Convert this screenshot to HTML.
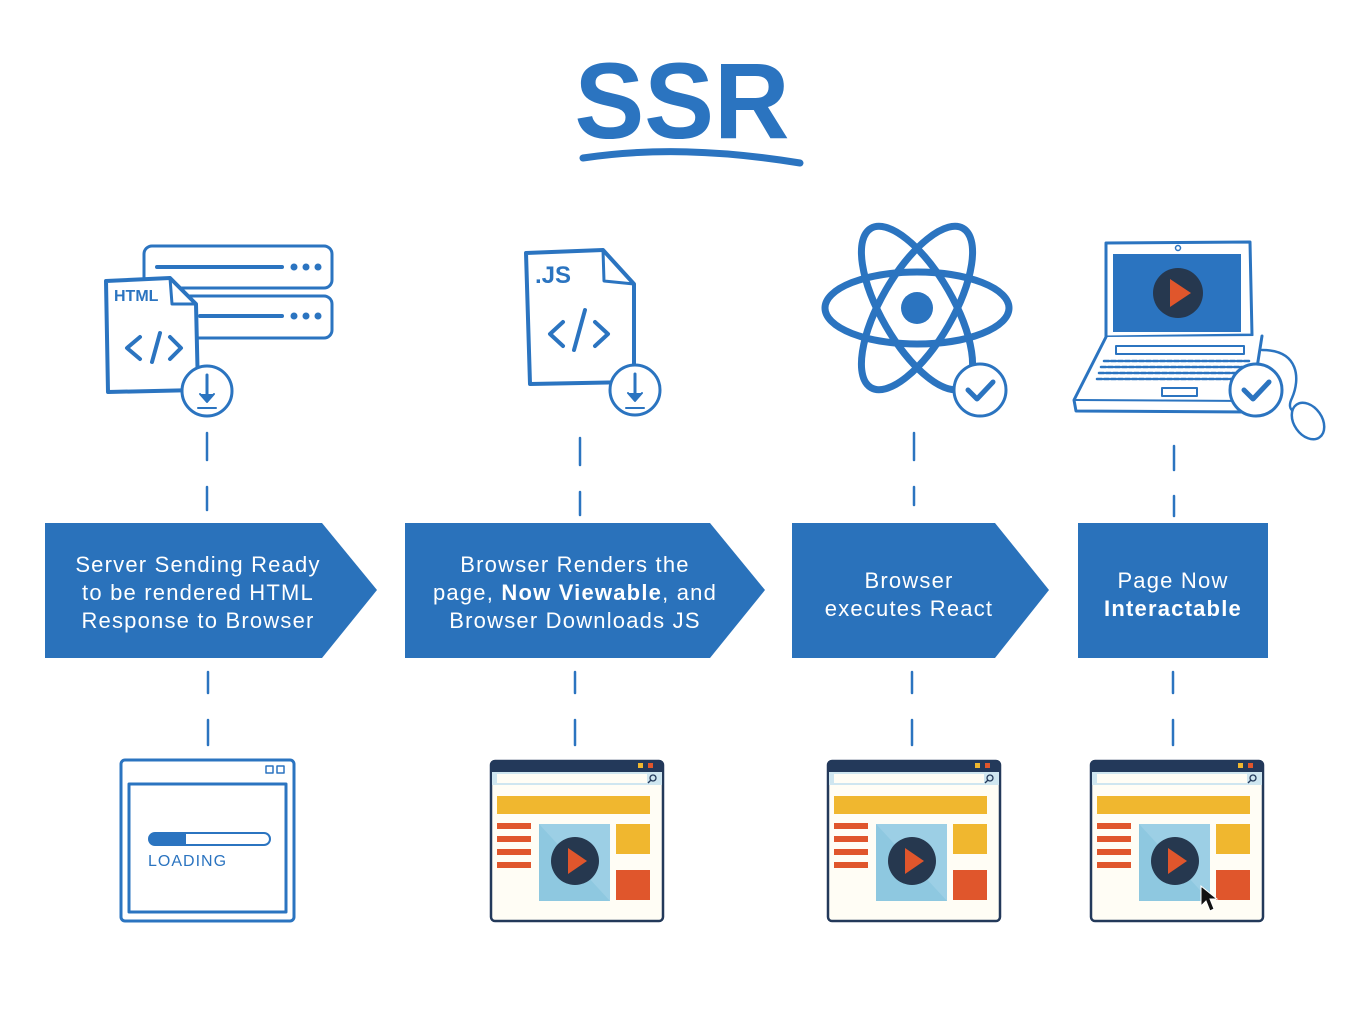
<!DOCTYPE html>
<html><head><meta charset="utf-8"><style>
html,body{margin:0;padding:0;background:#fff;}
svg{display:block;}
</style></head><body>
<svg width="1372" height="1010" viewBox="0 0 1372 1010" xmlns="http://www.w3.org/2000/svg" font-family="Liberation Sans, sans-serif">
<defs>
<g id="br">
  <rect x="1" y="1" width="172" height="160" rx="4" fill="#fffdf5" stroke="#23395a" stroke-width="2.5"/>
  <path d="M1 12 V5 a4 4 0 0 1 4 -4 H169 a4 4 0 0 1 4 4 V12 Z" fill="#23395a"/>
  <rect x="148" y="3" width="5" height="5" fill="#f0b72f"/>
  <rect x="158" y="3" width="5" height="5" fill="#e0562c"/>
  <rect x="2" y="12" width="170" height="13" fill="#cfe6f0"/>
  <rect x="7" y="14" width="150" height="9" fill="#fffdf5"/>
  <circle cx="163" cy="18" r="3" fill="none" stroke="#23395a" stroke-width="1.3"/>
  <line x1="161" y1="20" x2="158" y2="23" stroke="#23395a" stroke-width="1.3"/>
  <rect x="7" y="36" width="153" height="18" fill="#f0b72f"/>
  <rect x="7" y="63" width="34" height="6" fill="#e0562c"/>
  <rect x="7" y="76" width="34" height="6" fill="#e0562c"/>
  <rect x="7" y="89" width="34" height="6" fill="#e0562c"/>
  <rect x="7" y="102" width="34" height="6" fill="#e0562c"/>
  <rect x="49" y="64" width="71" height="77" fill="#8ec8e0"/>
  <path d="M49 64 L120 141 L120 64 Z" fill="#a5d4e8" opacity="0.6"/>
  <circle cx="85" cy="101" r="24" fill="#26384f"/>
  <path d="M78 88 L97 101 L78 114 Z" fill="#e0562c"/>
  <rect x="126" y="64" width="34" height="30" fill="#f0b72f"/>
  <rect x="126" y="110" width="34" height="30" fill="#e0562c"/>
</g>
</defs>

<!-- Title -->
<text x="682" y="138" text-anchor="middle" font-size="108" font-weight="bold" fill="#2b74c0" textLength="215" lengthAdjust="spacingAndGlyphs">SSR</text>
<path d="M583 158 C650 148 720 150 800 163" stroke="#2b74c0" stroke-width="7" fill="none" stroke-linecap="round"/>

<g stroke="#2b74c0" fill="none" stroke-linecap="round" stroke-linejoin="round">
<!-- Icon 1: servers + html -->
<rect x="144" y="246" width="188" height="42" rx="8" stroke-width="3"/>
<rect x="144" y="296" width="188" height="42" rx="8" stroke-width="3"/>
<line x1="157" y1="267" x2="282" y2="267" stroke-width="4"/>
<line x1="200" y1="316" x2="282" y2="316" stroke-width="4"/>
<path d="M106 281 L170 278 L196 304 L198 390 L108 392 Z" fill="#fff" stroke-width="4"/>
<path d="M170 278 L172 304 L196 304" stroke-width="3"/>
<path d="M140 337 L127 348 L140 359 M152 362 L160 333 M170 337 L181 348 L170 359" stroke-width="4"/>
<circle cx="207" cy="391" r="25" fill="#fff" stroke-width="3"/>
<line x1="207" y1="375" x2="207" y2="400" stroke-width="3"/>
<path d="M200 394 L207 402 L214 394" fill="#2b74c0" stroke-width="2"/>
<line x1="198" y1="408" x2="216" y2="408" stroke-width="2"/>

<!-- Icon 2: JS file -->
<path d="M526 253 L603 250 L634 284 L634 382 L530 384 Z" fill="#fff" stroke-width="4"/>
<path d="M603 250 L604 281 L634 284" stroke-width="3"/>
<path d="M563 322 L550 334 L563 346 M574 350 L585 310 M595 322 L608 334 L595 346" stroke-width="4"/>
<circle cx="635" cy="390" r="25" fill="#fff" stroke-width="3"/>
<line x1="635" y1="374" x2="635" y2="399" stroke-width="3"/>
<path d="M628 393 L635 401 L642 393" fill="#2b74c0" stroke-width="2"/>
<line x1="626" y1="408" x2="644" y2="408" stroke-width="2"/>

<!-- Icon 3: atom -->
<ellipse cx="917" cy="308" rx="92" ry="36" stroke-width="7"/>
<ellipse cx="917" cy="308" rx="92" ry="36" stroke-width="7" transform="rotate(60 917 308)"/>
<ellipse cx="917" cy="308" rx="92" ry="36" stroke-width="7" transform="rotate(-60 917 308)"/>
<circle cx="917" cy="308" r="16" fill="#2b74c0" stroke="none"/>
<circle cx="980" cy="390" r="26" fill="#fff" stroke-width="3"/>
<path d="M968 390 L977 399 L993 382" stroke-width="5"/>

<!-- Icon 4: laptop -->
<path d="M1106 243 L1250 242 L1252 335 L1106 337 Z" fill="#fff" stroke-width="3"/>
<rect x="1113" y="254" width="128" height="78" fill="#2b74c0" stroke="none"/>
<circle cx="1178" cy="248" r="2.5" stroke-width="1.5"/>
<path d="M1106 337 L1074 400 L1076 411 L1250 412 L1262 336" fill="#fff" stroke-width="3"/>
<line x1="1076" y1="400" x2="1250" y2="401" stroke-width="2"/>
<rect x="1116" y="346" width="128" height="8" stroke-width="2" fill="#fff"/>
<g stroke-width="2.5" stroke-dasharray="5 2">
<line x1="1104" y1="361" x2="1250" y2="361"/>
<line x1="1101" y1="367" x2="1248" y2="367"/>
<line x1="1099" y1="373" x2="1246" y2="373"/>
<line x1="1097" y1="379" x2="1244" y2="379"/>
</g>
<rect x="1162" y="388" width="35" height="8" stroke-width="2"/>
<path d="M1262 350 C1300 350 1300 380 1292 398 C1285 412 1298 415 1305 410" stroke-width="2.5"/>
<ellipse cx="1308" cy="421" rx="14" ry="20" transform="rotate(-35 1308 421)" stroke-width="2.5" fill="#fff"/>
<circle cx="1256" cy="390" r="26" fill="#fff" stroke-width="3"/>
<path d="M1244 390 L1253 399 L1269 382" stroke-width="5"/>

<!-- dashed connectors -->
<g stroke-width="2.5">
<line x1="207" y1="433" x2="207" y2="460"/><line x1="207" y1="487" x2="207" y2="510"/>
<line x1="580" y1="438" x2="580" y2="465"/><line x1="580" y1="492" x2="580" y2="515"/>
<line x1="914" y1="433" x2="914" y2="460"/><line x1="914" y1="487" x2="914" y2="505"/>
<line x1="1174" y1="446" x2="1174" y2="470"/><line x1="1174" y1="496" x2="1174" y2="516"/>
<line x1="208" y1="672" x2="208" y2="693"/><line x1="208" y1="720" x2="208" y2="745"/>
<line x1="575" y1="672" x2="575" y2="693"/><line x1="575" y1="720" x2="575" y2="745"/>
<line x1="912" y1="672" x2="912" y2="693"/><line x1="912" y1="720" x2="912" y2="745"/>
<line x1="1173" y1="672" x2="1173" y2="693"/><line x1="1173" y1="720" x2="1173" y2="745"/>
</g>

<!-- loading window -->
<rect x="121" y="760" width="173" height="161" rx="4" stroke-width="3"/>
<rect x="129" y="784" width="157" height="128" stroke-width="3"/>
<rect x="266" y="766" width="7" height="7" stroke-width="1.5"/>
<rect x="277" y="766" width="7" height="7" stroke-width="1.5"/>
<rect x="149" y="833" width="121" height="12" rx="6" stroke-width="2"/>
</g>
<!-- server dots -->
<g fill="#2b74c0">
<circle cx="294" cy="267" r="3.5"/><circle cx="306" cy="267" r="3.5"/><circle cx="318" cy="267" r="3.5"/>
<circle cx="294" cy="316" r="3.5"/><circle cx="306" cy="316" r="3.5"/><circle cx="318" cy="316" r="3.5"/>
</g>
<text x="114" y="301" font-size="16" font-weight="bold" fill="#2b74c0">HTML</text>
<text x="535" y="283" font-size="24" font-weight="bold" fill="#2b74c0">.JS</text>
<!-- laptop play -->
<circle cx="1178" cy="293" r="25" fill="#26384f"/>
<path d="M1170 279 L1191 293 L1170 307 Z" fill="#e0562c"/>

<path d="M155 833 H186 V845 H155 a6 6 0 0 1 0 -12 Z" fill="#2b74c0"/>
<text x="148" y="866" font-size="16" fill="#2b74c0" letter-spacing="1">LOADING</text>

<!-- arrow boxes -->
<path d="M45 523 H322 L377 590 L322 658 H45 Z" fill="#2a72bb"/>
<path d="M405 523 H710 L765 590 L710 658 H405 Z" fill="#2a72bb"/>
<path d="M792 523 H995 L1049 590 L995 658 H792 Z" fill="#2a72bb"/>
<rect x="1078" y="523" width="190" height="135" fill="#2a72bb"/>

<g fill="#fff" font-size="22" text-anchor="middle" letter-spacing="1.2">
<text x="198" y="572">Server Sending Ready</text>
<text x="198" y="600">to be rendered HTML</text>
<text x="198" y="628">Response to Browser</text>
<text x="575" y="572">Browser Renders the</text>
<text x="575" y="600">page, <tspan font-weight="bold">Now Viewable</tspan>, and</text>
<text x="575" y="628">Browser Downloads JS</text>
<text x="909" y="588">Browser</text>
<text x="909" y="616">executes React</text>
<text x="1173" y="588">Page Now</text>
<text x="1173" y="616" font-weight="bold">Interactable</text>
</g>

<use href="#br" x="490" y="760"/>
<use href="#br" x="827" y="760"/>
<use href="#br" x="1090" y="760"/>
<path d="M1201 886 L1201 906 L1206 901 L1210 911 L1214 909 L1210 899 L1217 899 Z" fill="#111" stroke="#fff" stroke-width="1"/>
</svg>
</body></html>
